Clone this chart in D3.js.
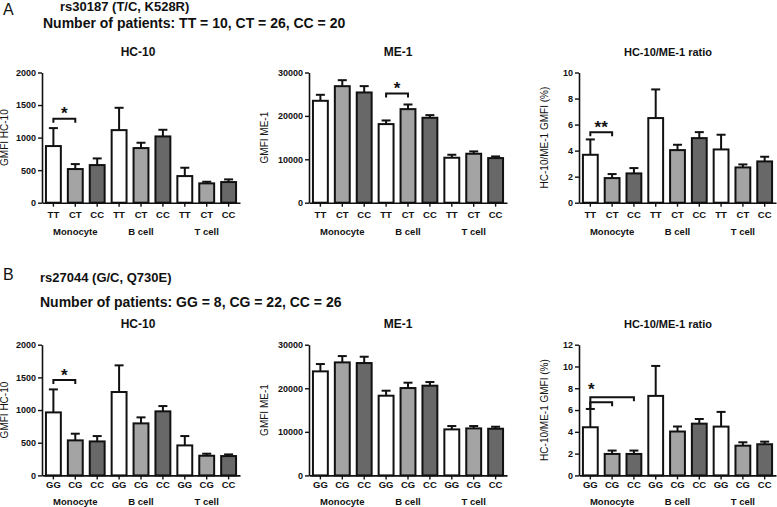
<!DOCTYPE html>
<html lang="en">
<head>
<meta charset="UTF-8">
<title>HC-10 / ME-1 GMFI by genotype</title>
<script src="https://cdn.jsdelivr.net/npm/d3@7"></script>
<style>
    body { margin: 0; background: #fff; }
    svg { font-family: "Liberation Sans", Arial, sans-serif; }
    .tick text { font-weight: bold; }
</style>
</head>
<body>
<script>
    // ---- data ----
    const cellTypes = ["Monocyte", "B cell", "T cell"];
    const genotypesA = ["TT", "CT", "CC"];
    const genotypesB = ["GG", "CG", "CC"];

    // panel A: rs30187
    const aHc10 = [870, 517, 578, 1115, 839, 1018, 409, 297, 317];
    const aHc10Sem = [276, 76, 102, 343, 82, 102, 128, 25, 41];
    const aMe1 = [23480, 26850, 25400, 18110, 21560, 19570, 10360, 11280, 10280];
    const aMe1Sem = [1380, 1380, 1460, 840, 1070, 610, 690, 540, 380];
    const aRatio = [3.68, 1.89, 2.25, 6.50, 4.04, 4.96, 4.09, 2.71, 3.17];
    const aRatioSem = [1.18, 0.31, 0.41, 2.20, 0.41, 0.46, 1.13, 0.23, 0.36];

    // panel B: rs27044
    const bHc10 = [964, 536, 520, 1276, 796, 980, 459, 301, 296];
    const bHc10Sem = [352, 102, 82, 408, 92, 81, 143, 31, 25];
    const bMe1 = [23880, 25940, 25790, 18290, 20050, 20590, 10560, 10790, 10710];
    const bMe1Sem = [1680, 1450, 1450, 1150, 1230, 840, 770, 540, 460];
    const bRatio = [4.42, 1.97, 1.97, 7.30, 4.03, 4.75, 4.48, 2.73, 2.86];
    const bRatioSem = [1.68, 0.31, 0.31, 2.75, 0.46, 0.43, 1.35, 0.31, 0.24];

    const hc10Ticks = [0, 500, 1000, 1500, 2000];
    const me1Ticks = [0, 10000, 20000, 30000];
    const ratioTicksA = [0, 2, 4, 6, 8, 10];
    const ratioTicksB = [0, 2, 4, 6, 8, 10, 12];

    // significance brackets: bar index from -> to, height in data units
    const aHc10Sig = [{ from: 0, to: 1, at: 1290, label: "*" }];
    const aMe1Sig = [{ from: 3, to: 4, at: 25170, label: "*" }];
    const aRatioSig = [{ from: 0, to: 1, at: 5.42, label: "**" }];
    const bHc10Sig = [{ from: 0, to: 1, at: 1459, label: "*" }];
    const bRatioSig = [
        { from: 0, to: 2, at: 7.17, leftTo: 6.1, label: "*", labelLeft: true },
        { from: 0, to: 1, at: 6.72, leftTo: 6.1, label: "" }
    ];

    const fills = ["#ffffff", "#a4a4a4", "#686868"];

    const svg = d3.select("body").append("svg")
        .attr("width", 777).attr("height", 507);

    // column / row geometry
    const cols = [
        { x0: 42, x1: 240, titleX: 138, labelX: 8 },
        { x0: 309, x1: 507, titleX: 398, labelX: 268 },
        { x0: 579, x1: 776, titleX: 668, labelX: 548 }
    ];
    const rowA = { y0: 72.5, y1: 202.7, titleY: 56, catPad: 5, groupY: 234.5 };
    const rowB = { y0: 344.7, y1: 475.4, titleY: 328, catPad: 2, groupY: 504.5 };

    function drawPanel(col, row, o) {
        const g = svg.append("g");
        const x = d3.scaleBand().domain(d3.range(9))
            .range([col.x0, col.x1]).paddingInner(0.32).paddingOuter(0.18);
        const y = d3.scaleLinear().domain([0, o.max]).range([row.y1, row.y0]);
        const bw = x.bandwidth();
        const cx = i => x(i) + bw / 2;

        // error bars (upper only)
        o.values.forEach((v, i) => {
            const top = y(v + o.sem[i]);
            g.append("line").attr("x1", cx(i)).attr("x2", cx(i))
                .attr("y1", y(v)).attr("y2", top)
                .attr("stroke", "#111").attr("stroke-width", 2);
            g.append("line").attr("x1", cx(i) - 4.5).attr("x2", cx(i) + 4.5)
                .attr("y1", top).attr("y2", top)
                .attr("stroke", "#111").attr("stroke-width", 2);
        });

        g.selectAll("rect.bar").data(o.values).join("rect")
            .attr("class", "bar")
            .attr("x", (d, i) => x(i))
            .attr("y", d => y(d))
            .attr("width", bw)
            .attr("height", d => row.y1 - y(d))
            .attr("fill", (d, i) => fills[i % 3])
            .attr("stroke", "#111")
            .attr("stroke-width", 2);

        // axes
        const ya = g.append("g").attr("transform", `translate(${col.x0},0)`)
            .call(d3.axisLeft(y).tickValues(o.ticks).tickFormat(d3.format("d"))
                .tickSize(4).tickPadding(2).tickSizeOuter(0));
        ya.selectAll("text").attr("font-size", 9).attr("fill", "#111");

        const xa = g.append("g").attr("transform", `translate(0,${row.y1})`)
            .call(d3.axisBottom(x).tickSize(4).tickPadding(row.catPad).tickSizeOuter(0)
                .tickFormat(i => o.genotypes[i % 3]));
        xa.selectAll("text").attr("font-size", 9.5).attr("fill", "#111");

        [ya, xa].forEach(a => {
            a.select(".domain").attr("stroke", "#111").attr("stroke-width", 1.6);
            a.selectAll(".tick line").attr("stroke", "#111").attr("stroke-width", 1.4);
        });

        cellTypes.forEach((c, k) => {
            g.append("text").attr("x", cx(k * 3 + 1)).attr("y", row.groupY)
                .attr("text-anchor", "middle").attr("font-size", 9.5)
                .attr("font-weight", "bold").attr("fill", "#111").text(c);
        });

        // title and y label
        g.append("text").attr("x", col.titleX).attr("y", row.titleY)
            .attr("text-anchor", "middle").attr("font-size", o.titleSize || 12)
            .attr("font-weight", "bold").attr("fill", "#111").text(o.title);

        g.append("text")
            .attr("transform", `translate(${col.labelX},${(row.y0 + row.y1) / 2}) rotate(-90)`)
            .attr("text-anchor", "middle").attr("font-size", 10).attr("fill", "#111")
            .text(o.yLabel);

        // significance brackets
        (o.sig || []).forEach(s => {
            const yb = y(s.at);
            const xl = cx(s.from), xr = cx(s.to);
            const yl = s.leftTo !== undefined ? y(s.leftTo) : yb + 4;
            g.append("path")
                .attr("d", `M${xl},${yl}V${yb}H${xr}V${yb + 4}`)
                .attr("fill", "none").attr("stroke", "#111").attr("stroke-width", 2);
            if (s.label) {
                const sx = s.labelLeft ? xl + 1 : (xl + xr) / 2;
                const up = s.labelLeft ? 12 : 9;
                g.append("text").attr("x", sx).attr("y", yb - up + 9.5)
                    .attr("text-anchor", "middle").attr("font-size", 17)
                    .attr("font-weight", "bold").attr("fill", "#111").text(s.label);
            }
        });
    }

    // ---- headers ----
    function header(letter, ly, snp, sy, count, cy) {
        svg.append("text").attr("x", 3).attr("y", ly).attr("font-size", 16)
            .attr("fill", "#111").text(letter);
        svg.append("text").attr("x", snp.x).attr("y", sy).attr("font-size", 13)
            .attr("font-weight", "bold").attr("fill", "#111").text(snp.text);
        svg.append("text").attr("x", count.x).attr("y", cy).attr("font-size", 14)
            .attr("font-weight", "bold").attr("fill", "#111").text(count.text);
    }
    header("A", 15, { x: 60, text: "rs30187 (T/C, K528R)" }, 11,
        { x: 43, text: "Number of patients: TT = 10, CT = 26, CC = 20" }, 28);
    header("B", 280, { x: 40, text: "rs27044 (G/C, Q730E)" }, 282,
        { x: 40, text: "Number of patients: GG = 8, CG = 22, CC = 26" }, 307);

    // ---- panels ----
    drawPanel(cols[0], rowA, { values: aHc10, sem: aHc10Sem, max: 2000, ticks: hc10Ticks,
        genotypes: genotypesA, title: "HC-10", yLabel: "GMFI HC-10", sig: aHc10Sig });
    drawPanel(cols[1], rowA, { values: aMe1, sem: aMe1Sem, max: 30000, ticks: me1Ticks,
        genotypes: genotypesA, title: "ME-1", yLabel: "GMFI ME-1", sig: aMe1Sig });
    drawPanel(cols[2], rowA, { values: aRatio, sem: aRatioSem, max: 10, ticks: ratioTicksA,
        genotypes: genotypesA, title: "HC-10/ME-1 ratio", titleSize: 11,
        yLabel: "HC-10/ME-1 GMFI (%)", sig: aRatioSig });

    drawPanel(cols[0], rowB, { values: bHc10, sem: bHc10Sem, max: 2000, ticks: hc10Ticks,
        genotypes: genotypesB, title: "HC-10", yLabel: "GMFI HC-10", sig: bHc10Sig });
    drawPanel(cols[1], rowB, { values: bMe1, sem: bMe1Sem, max: 30000, ticks: me1Ticks,
        genotypes: genotypesB, title: "ME-1", yLabel: "GMFI ME-1" });
    drawPanel(cols[2], rowB, { values: bRatio, sem: bRatioSem, max: 12, ticks: ratioTicksB,
        genotypes: genotypesB, title: "HC-10/ME-1 ratio", titleSize: 11,
        yLabel: "HC-10/ME-1 GMFI (%)", sig: bRatioSig });
</script>
</body>
</html>
